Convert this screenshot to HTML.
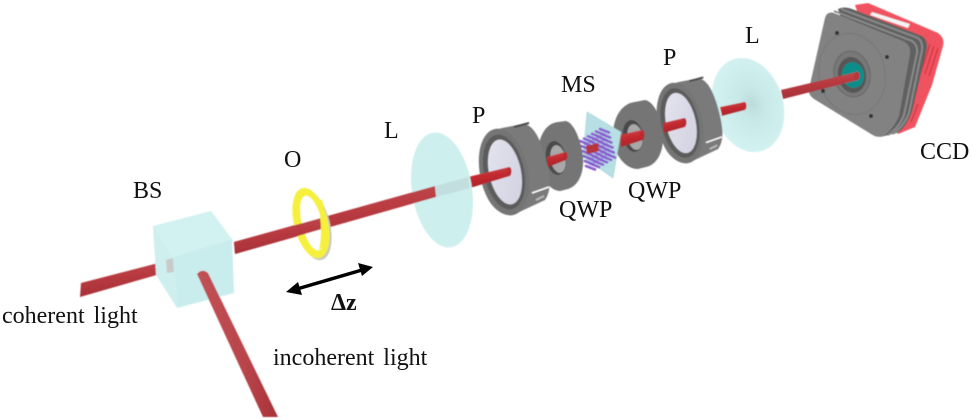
<!DOCTYPE html>
<html><head><meta charset="utf-8"><style>
html,body{margin:0;padding:0;background:#fff}
svg{display:block}
text{font-family:"Liberation Serif",serif;font-size:24px;fill:#111;word-spacing:3px}
</style></head><body>
<svg width="973" height="420" viewBox="0 0 973 420" xmlns="http://www.w3.org/2000/svg">
<defs>
<filter id="soft" x="-5%" y="-5%" width="110%" height="110%"><feGaussianBlur stdDeviation="0.45"/></filter>
<linearGradient id="gb" x1="0" y1="0" x2="0.25" y2="1"><stop offset="0" stop-color="#c24f52"/><stop offset=".5" stop-color="#b83a40"/><stop offset="1" stop-color="#a53036"/></linearGradient>
<linearGradient id="gb2" x1="0" y1="0" x2="0.25" y2="1"><stop offset="0" stop-color="#d2484c"/><stop offset=".5" stop-color="#c32a30"/><stop offset="1" stop-color="#a8242a"/></linearGradient>
<linearGradient id="inc" x1="0" y1="0" x2="1" y2="0"><stop offset="0" stop-color="#c25256"/><stop offset=".6" stop-color="#b8444a"/><stop offset="1" stop-color="#a83238"/></linearGradient>
<radialGradient id="lens2" cx=".56" cy=".5" r=".5"><stop offset="0" stop-color="#bcdcdb"/><stop offset=".35" stop-color="#c8e8e8"/><stop offset="1" stop-color="#d2f1f1"/></radialGradient>
<linearGradient id="lav" x1="0" y1="0" x2="1" y2="1"><stop offset="0" stop-color="#e6e6f0"/><stop offset="1" stop-color="#cfcfdf"/></linearGradient>
<g id="holder">
 <path d="M-24 -15 C-22 -30 -14 -41 -2 -44 L19 -48 C28 -48 36 -36 42 -12 C46 4 48 18 41 28 L9 43 C-1 45 -12 36 -17 25 C-23 13 -26 -2 -24 -15 Z" fill="#7a7a7a"/>
 <ellipse cx="0" cy="0" rx="24" ry="44" transform="rotate(-12)" fill="#747474"/>
 <ellipse cx="0" cy="0" rx="20" ry="38" transform="rotate(-12)" fill="#5c5c5c"/>
 <ellipse cx="1" cy="0" rx="16" ry="33" transform="rotate(-12 1 0)" fill="url(#lav)"/>
 <path d="M10 -45l15-4" stroke="#4a4a4a" stroke-width="2"/>
 <path d="M28 21l17-6" stroke="#fff" stroke-width="1.500"/>
 <path d="M32 28l8-4" stroke="#bbb" stroke-width="2"/>
</g>
<path id="pr" d="M0 0l9 3.500M1.200 5l9 3.500M2.400 10l9 3.500M3.600 15l9 3.500M4.800 20l9 3.500M6 25l9 3.500" fill="none" stroke="#8a5fd0" stroke-width="2.600" stroke-linecap="round"/>
</defs>

<g filter="url(#soft)">
<!-- camera -->
<path d="M855 5 L868 3 L938 33 Q945 38 943 46 L932 85 L915 127 L898 134 Z" fill="#f0525e"/>
<path d="M938 48l-9 28M934 46l-9 28M930 44l-9 28M918 104l-7 18M914 102l-7 18" stroke="#c42e3a" stroke-width="1" fill="none"/>
<path d="M838 9 Q844 6 852 9 L922 36 Q928 40 927 48 L912 112 Q906 128 897 133 L880 137 Z" fill="#616161"/>
<path d="M834 11 L912 41 Q918 45 917 53 L904 115 Q899 128 888 135" fill="none" stroke="#8a8a8a" stroke-width="2"/>
<path d="M841 9 L918 38 Q923 42 922 50 L909 113 Q904 126 893 134" fill="none" stroke="#8a8a8a" stroke-width="2"/>
<path d="M872 12 L910 24 L908 28 L870 15 Z" fill="#f4f4f4"/>
<path d="M825 18 Q827 11 834 13 L903 41 Q911 45 910 54 L899 116 Q894 128 885 135 Q878 139 871 134 L814 99 Q808 95 809 89 Z" fill="#828282"/>
<ellipse cx="852" cy="74" rx="33" ry="41" transform="rotate(-12 852 74)" fill="none" stroke="#747474" stroke-width=".8"/>
<circle cx="837" cy="33" r="2" fill="#333"/><circle cx="887" cy="57" r="2" fill="#333"/><circle cx="823" cy="91" r="2" fill="#333"/><circle cx="871" cy="116" r="2" fill="#333"/>
<ellipse cx="852" cy="74" rx="18" ry="23" transform="rotate(-10 852 74)" fill="#787878" stroke="#666" stroke-width="1"/>
<ellipse cx="852" cy="75" rx="14" ry="18" transform="rotate(-10 852 75)" fill="#565656"/>
<ellipse cx="853" cy="75" rx="11" ry="13" transform="rotate(-10 853 75)" fill="#0f8d8a"/>
<polygon points="781,90 857,72 858,80 783,99" fill="url(#gb)"/>
<ellipse cx="857" cy="76" rx="2.500" ry="4.500" fill="#b8343a"/>

<!-- L2 -->
<ellipse cx="748" cy="105" rx="35" ry="48" transform="rotate(-17 748 105)" fill="url(#lens2)"/>
<polygon points="720,107 744,102 745,110 722,116" fill="url(#gb2)"/>
<ellipse cx="744.500" cy="106" rx="2" ry="4" fill="#c42a30"/>

<!-- P2 -->
<g transform="translate(680 123) scale(.93)"><use href="#holder"/></g>
<polygon points="663,123 684,118 685,127 664,133" fill="url(#gb2)"/>
<ellipse cx="684.500" cy="122.500" rx="2" ry="4.500" fill="#b82a30"/>

<!-- QWP2 -->
<path d="M613 133 C614 114 624 103 635 102 L645 100 C654 101 663 120 663 138 C663 154 656 165 646 167 L638 169 C624 169 612 152 613 133 Z" fill="#747474"/>
<ellipse cx="633" cy="136" rx="10" ry="16" transform="rotate(-10 633 136)" fill="#4a4a4a"/>
<ellipse cx="635" cy="137" rx="7.500" ry="13" transform="rotate(-10 635 137)" fill="#a8a8a8"/>
<polygon points="620,135 642,130 643,140 621,147" fill="url(#gb2)"/>
<ellipse cx="642.500" cy="135" rx="2" ry="5" fill="#b82a30"/>

<!-- MS -->
<polygon points="587,112 621,132 613,178 583,157" fill="#b8dfe4" stroke="#a5d4da" stroke-width=".6"/>
<g transform="translate(0 6)">
<use href="#pr" x="580" y="135"/>
<use href="#pr" x="584" y="132.600"/>
<use href="#pr" x="588" y="130.200"/>
<use href="#pr" x="592" y="127.800"/>
<use href="#pr" x="596" y="125.400"/>
<use href="#pr" x="600" y="123"/>
</g>
<polygon points="586,146 598,143 599,151 587,154" fill="#b8343a"/>

<!-- QWP1 -->
<path d="M538 150 C540 132 548 123 558 122 L566 121 C574 123 581 140 583 158 C584 174 578 186 568 189 L560 191 C548 191 537 172 538 150 Z" fill="#747474"/>
<ellipse cx="556" cy="158" rx="10" ry="17" transform="rotate(-10 556 158)" fill="#4a4a4a"/>
<ellipse cx="558" cy="159" rx="7.500" ry="14" transform="rotate(-10 558 159)" fill="#a8a8a8"/>
<polygon points="547,157 565,152 566,160 548,167" fill="url(#gb2)"/>
<ellipse cx="565.500" cy="156" rx="2" ry="4" fill="#b82a30"/>

<!-- P1 -->
<g transform="translate(504 172)"><use href="#holder"/></g>
<polygon points="468,177 509,167 510,176 470,188" fill="url(#gb2)"/>
<ellipse cx="509.500" cy="171.500" rx="2" ry="4.500" fill="#b82a30"/>

<!-- L1 -->
<ellipse cx="442" cy="190" rx="30" ry="58" transform="rotate(-9 442 190)" fill="#cdefee"/>
<polygon points="436,186 468,177 470,188 436,197" fill="#c2dede"/>

<!-- main beam left -->
<polygon points="234,242 435,186 436,197 235,254" fill="url(#gb)"/>

<!-- ring O -->
<ellipse cx="313" cy="225" rx="17" ry="36" transform="rotate(-14 313 225)" fill="#c9c9b8"/>
<ellipse cx="311" cy="223" rx="17" ry="36" transform="rotate(-14 311 223)" fill="#f6f03c"/>
<ellipse cx="312" cy="223" rx="10" ry="28" transform="rotate(-14 312 223)" fill="#fff"/>
<polygon points="234,242 321,218 322,229 235,254" fill="url(#gb)"/>
<path d="M322 200 Q329 222 326 243 L319 250 Q324 225 316 198 Z" fill="#f6f03c"/>

<!-- coherent beam, cube -->
<polygon points="81,283 166,261 167,272 80,297" fill="url(#gb)"/>
<polygon points="153,226 211,211 232,239 173,257" fill="#d2f1f1"/>
<polygon points="153,226 173,257 177,308 156,275" fill="#cfeeee"/>
<polygon points="173,257 232,239 234,293 177,308" fill="#c9eded"/>
<polygon points="166,260 173,258 174,272 167,273" fill="#c8caca"/>
<path d="M197 274 Q202 268 208 273 L278 417 L263 417 Z" fill="url(#inc)"/>
</g>

<!-- arrow -->
<line x1="297" y1="289" x2="362" y2="270" stroke="#000" stroke-width="3.500"/>
<polygon points="286,292 298,282 302,295" fill="#000"/>
<polygon points="373,267 358,263 362,276" fill="#000"/>

<!-- labels -->
<text x="2" y="323">coherent light</text>
<text x="273" y="365">incoherent light</text>
<text x="133" y="198">BS</text>
<text x="284" y="167">O</text>
<text x="384" y="138">L</text>
<text x="472" y="123">P</text>
<text x="561" y="92">MS</text>
<text x="663" y="65">P</text>
<text x="745" y="43">L</text>
<text x="559" y="217">QWP</text>
<text x="628" y="198">QWP</text>
<text x="920" y="159">CCD</text>
<text x="331" y="310" style="font-weight:bold">Δz</text>
</svg>
</body></html>
